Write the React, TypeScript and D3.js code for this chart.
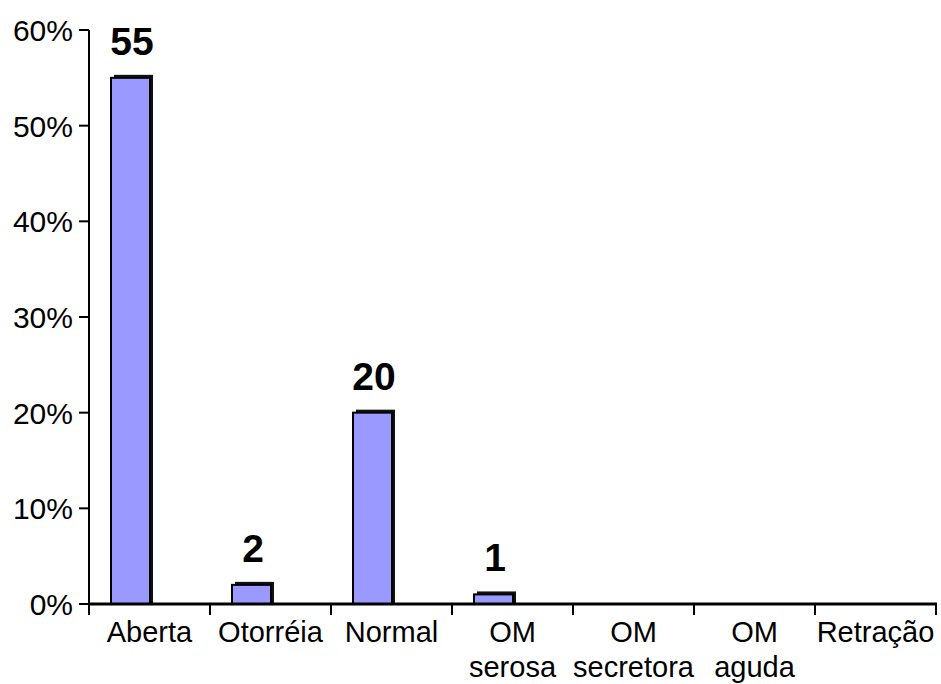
import React from "react";
import * as d3 from "d3";

// Categories (each may wrap onto two lines) and their percentage values
const categories: string[][] = [
  ["Aberta"],
  ["Otorréia"],
  ["Normal"],
  ["OM", "serosa"],
  ["OM", "secretora"],
  ["OM", "aguda"],
  ["Retração"],
];
const values: (number | null)[] = [55, 2, 20, 1, 0, 0, 0];
const valueLabels: (string | null)[] = ["55", "2", "20", "1", null, null, null];
const yTicks: number[] = [0, 10, 20, 30, 40, 50, 60];

const W = 941;
const H = 684;
const FONT = "'Liberation Sans', Arial, sans-serif";

export default function App() {
  const keys = categories.map((c) => c.join(" "));
  const x = d3.scaleBand<string>().domain(keys).range([89, 936]).padding(0);
  const y = d3.scaleLinear().domain([0, 60]).range([604, 30]);
  const bw = x.bandwidth();
  const barOff = 22;
  const barW = 39;
  const depth = 3;

  return (
    <svg
      width={W}
      height={H}
      style={{ position: "absolute", left: 0, top: 0, background: "#fff" }}
    >
      {/* bars: dark back face offset for depth, front face on top */}
      {keys.map((k, i) => {
        const v = values[i];
        if (!v) return null;
        const x0 = (x(k) as number) + barOff;
        const yt = y(v);
        const h = y(0) - yt;
        return (
          <g key={k}>
            <rect x={x0 + depth} y={yt - depth} width={barW} height={h + depth} fill="#111" />
            <rect x={x0} y={yt} width={barW} height={h} fill="#9999FF" stroke="#000" strokeWidth={2} />
            {valueLabels[i] && (
              <text
                x={x0 + barW / 2 + 1.5}
                y={yt - 23}
                textAnchor="middle"
                fontFamily={FONT}
                fontWeight="bold"
                fontSize={39}
                fill="#000"
              >
                {valueLabels[i]}
              </text>
            )}
          </g>
        );
      })}

      {/* y axis */}
      <line x1={89} x2={89} y1={y(60)} y2={y(0) + 1} stroke="#000" strokeWidth={2} />
      {yTicks.map((t) => (
        <g key={t}>
          <line x1={79} x2={89} y1={y(t)} y2={y(t)} stroke="#000" strokeWidth={2} />
          <text
            x={73}
            y={y(t) + 11}
            textAnchor="end"
            fontFamily={FONT}
            fontSize={30}
            fill="#000"
          >
            {t}%
          </text>
        </g>
      ))}

      {/* x axis */}
      <line x1={88} x2={937} y1={y(0)} y2={y(0)} stroke="#000" strokeWidth={3} />
      {keys.concat(["end"]).map((k, i) => {
        const xt = 89 + i * bw;
        return <line key={"t" + i} x1={xt} x2={xt} y1={y(0)} y2={y(0) + 11} stroke="#000" strokeWidth={2} />;
      })}
      {categories.map((lines, i) => {
        const cx = (x(keys[i]) as number) + bw / 2;
        return (
          <text key={"c" + i} textAnchor="middle" fontFamily={FONT} fontSize={29} fill="#000">
            {lines.map((ln, j) => (
              <tspan key={j} x={cx} y={642 + j * 35}>
                {ln}
              </tspan>
            ))}
          </text>
        );
      })}
    </svg>
  );
}
